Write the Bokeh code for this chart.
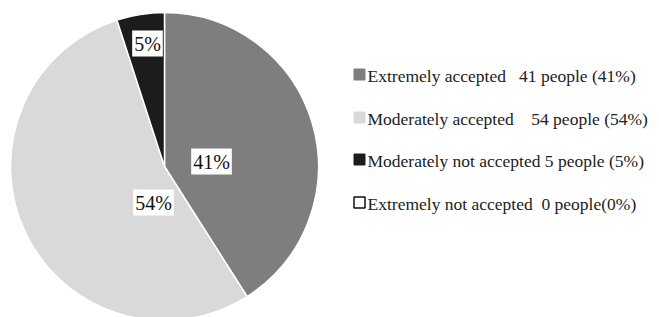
import math
from bokeh.plotting import figure
from bokeh.models import Range1d, ColumnDataSource
from bokeh.core.properties import value
from bokeh.embed import file_html
from bokeh.resources import INLINE

# ---- data ----
categories = ["Extremely accepted", "Moderately accepted",
              "Moderately not accepted", "Extremely not accepted"]
people = [41, 54, 5, 0]
percents = [41, 54, 5, 0]
NB = "\u00a0"
legend_texts = ["Extremely accepted" + NB * 3 + "41 people (41%)",
                "Moderately accepted" + NB * 4 + "54 people (54%)",
                "Moderately not accepted 5 people (5%)",
                "Extremely not accepted" + NB * 2 + "0 people(0%)"]
slice_labels = ["41%", "54%", "5%", ""]

# ---- styles / layout ----
colors = ["#7e7e7e", "#d9d9d9", "#1c1c1c", "#ffffff"]
W, H = 659, 317
cx, cy, R = 164, H - 166, 154
# label anchors relative to the pie centre (pixels)
label_dx = [47, -11, -17, 0]
label_dy = [5, -36, 123, 0]

p = figure(width=W, height=H, output_backend="svg", toolbar_location=None,
           x_range=Range1d(0, W), y_range=Range1d(0, H), min_border=0)
p.axis.visible = False
p.grid.visible = False
p.outline_line_color = None

total = sum(people)
starts, ends = [], []
cum = 0.0
for v in people:
    a0 = math.pi / 2 - 2 * math.pi * cum / total
    cum += v
    a1 = math.pi / 2 - 2 * math.pi * cum / total
    starts.append(a0)
    ends.append(a1)

src = ColumnDataSource(dict(start=starts[:3], end=ends[:3], color=colors[:3]))
p.wedge(x=cx, y=cy, radius=R, start_angle="start", end_angle="end",
        direction="clock", fill_color="color", line_color="white",
        line_width=1.5, source=src)

lsrc = ColumnDataSource(dict(
    x=[cx + d for d in label_dx[:3]],
    y=[cy + d for d in label_dy[:3]],
    t=slice_labels[:3]))
p.text(x="x", y="y", text="t", source=lsrc, text_font=value("Liberation Serif"),
       text_font_size="20px", text_color="#111111", text_align="center",
       text_baseline="middle", background_fill_color="white", padding=2)

# legend
leg_x = 359
rows_y = [H - 74, H - 117, H - 159, H - 202]
p.rect(x=[leg_x] * 4, y=rows_y, width=11, height=11,
       fill_color=colors, line_color=["#7e7e7e", "#d9d9d9", "#1c1c1c", "#111111"],
       line_width=[1, 1, 1, 1.5])
p.text(x=[leg_x + 8] * 4, y=[y - 1 for y in rows_y], text=legend_texts,
       text_font=value("Liberation Serif"), text_font_size="17.5px",
       text_color="#222222", text_align="left", text_baseline="alphabetic")

open("out.html", "w").write(file_html(p, INLINE))
